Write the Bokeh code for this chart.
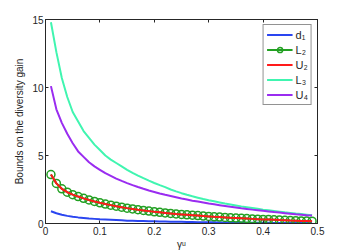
from bokeh.plotting import figure
from bokeh.models import Range1d, LinearAxis, FixedTicker, Legend, LegendItem
from bokeh.embed import file_html
from bokeh.resources import INLINE

gamma = [0.01, 0.02, 0.03, 0.04, 0.05, 0.06, 0.07, 0.08, 0.09, 0.10,
         0.11, 0.12, 0.13, 0.14, 0.15, 0.16, 0.17, 0.18, 0.19, 0.20,
         0.21, 0.22, 0.23, 0.24, 0.25, 0.26, 0.27, 0.28, 0.29, 0.30,
         0.31, 0.32, 0.33, 0.34, 0.35, 0.36, 0.37, 0.38, 0.39, 0.40,
         0.41, 0.42, 0.43, 0.44, 0.45, 0.46, 0.47, 0.48, 0.49]

d1 = [0.90, 0.75, 0.64, 0.56, 0.50, 0.45, 0.41, 0.37, 0.34, 0.31,
      0.29, 0.27, 0.25, 0.23, 0.21, 0.20, 0.19, 0.18, 0.17, 0.16,
      0.15, 0.14, 0.13, 0.125, 0.12, 0.11, 0.105, 0.10, 0.095, 0.09,
      0.085, 0.08, 0.075, 0.07, 0.068, 0.065, 0.06, 0.057, 0.054, 0.05,
      0.047, 0.044, 0.041, 0.038, 0.035, 0.033, 0.031, 0.030, 0.028]

L2 = [3.60, 2.95, 2.55, 2.30, 2.12, 1.98, 1.85, 1.73, 1.62, 1.52,
      1.43, 1.35, 1.27, 1.20, 1.13, 1.07, 1.01, 0.96, 0.91, 0.86,
      0.82, 0.78, 0.74, 0.70, 0.67, 0.64, 0.61, 0.58, 0.55, 0.52,
      0.49, 0.47, 0.45, 0.42, 0.40, 0.38, 0.36, 0.34, 0.32, 0.30,
      0.29, 0.27, 0.25, 0.24, 0.22, 0.21, 0.19, 0.18, 0.17]

U2 = [3.60, 2.95, 2.55, 2.30, 2.12, 1.98, 1.85, 1.73, 1.62, 1.52,
      1.43, 1.35, 1.27, 1.20, 1.13, 1.07, 1.01, 0.96, 0.91, 0.86,
      0.82, 0.78, 0.74, 0.70, 0.67, 0.64, 0.61, 0.58, 0.55, 0.52,
      0.49, 0.47, 0.45, 0.42, 0.40, 0.38, 0.36, 0.34, 0.32, 0.30,
      0.29, 0.27, 0.25, 0.24, 0.22, 0.21, 0.19, 0.18, 0.17]

L3 = [14.8, 12.6, 10.7, 9.3, 8.2, 7.5, 6.8, 6.3, 5.8, 5.4,
      5.0, 4.7, 4.45, 4.2, 3.95, 3.72, 3.52, 3.33, 3.15, 2.98,
      2.82, 2.67, 2.50, 2.36, 2.23, 2.11, 2.0, 1.90, 1.80, 1.71,
      1.63, 1.55, 1.47, 1.40, 1.33, 1.26, 1.20, 1.14, 1.08, 1.02,
      0.97, 0.92, 0.87, 0.82, 0.78, 0.73, 0.69, 0.65, 0.61]

U4 = [10.1, 8.4, 7.4, 6.6, 5.9, 5.3, 4.9, 4.5, 4.2, 3.95,
      3.7, 3.5, 3.3, 3.13, 2.97, 2.82, 2.68, 2.55, 2.43, 2.32,
      2.21, 2.11, 2.02, 1.93, 1.84, 1.76, 1.68, 1.61, 1.54, 1.47,
      1.41, 1.35, 1.29, 1.23, 1.18, 1.12, 1.07, 1.02, 0.98, 0.93,
      0.89, 0.84, 0.80, 0.76, 0.72, 0.68, 0.65, 0.61, 0.58]

x_ticks = [0, 0.1, 0.2, 0.3, 0.4, 0.5]
x_tick_labels = ["0", "0.1", "0.2", "0.3", "0.4", "0.5"]
y_ticks = [0, 5, 10, 15]
y_tick_labels = ["0", "5", "10", "15"]

FONT = "Liberation Sans"
AX = "#262626"

p = figure(width=349, height=252, output_backend="svg", toolbar_location=None,
           x_range=Range1d(0, 0.5), y_range=Range1d(0, 15),
           min_border_left=45, min_border_top=19, min_border_right=32, min_border_bottom=29)
p.grid.visible = False
p.outline_line_color = AX
p.outline_line_width = 1
p.background_fill_color = "white"
p.border_fill_color = "white"

def style_axis(ax):
    ax.axis_line_color = AX
    ax.major_tick_line_color = AX
    ax.major_tick_in = 3
    ax.major_tick_out = 0
    ax.minor_tick_line_color = None
    ax.major_label_text_font = FONT
    ax.major_label_text_font_size = "10px"
    ax.major_label_text_color = AX
    ax.axis_label_text_font = FONT
    ax.axis_label_text_font_size = "10px"
    ax.axis_label_text_font_style = "normal"
    ax.axis_label_text_color = AX

p.xaxis.ticker = FixedTicker(ticks=x_ticks)
p.xaxis.major_label_overrides = {t: l for t, l in zip(x_ticks, x_tick_labels)}
p.yaxis.ticker = FixedTicker(ticks=y_ticks)
p.yaxis.major_label_overrides = {t: l for t, l in zip(y_ticks, y_tick_labels)}
style_axis(p.xaxis[0])
style_axis(p.yaxis[0])
p.xaxis.axis_label = "γᵘ"
p.xaxis.major_label_standoff = 3
p.xaxis.axis_label_standoff = 1
p.yaxis.axis_label = "Bounds on the diversity gain"
p.yaxis.major_label_standoff = 2
p.yaxis.axis_label_standoff = 4

top = LinearAxis(ticker=FixedTicker(ticks=x_ticks), major_label_text_font_size="0px",
                 major_label_standoff=0)
style_axis(top)
top.major_label_text_font_size = "0px"
top.major_label_text_color = None
p.add_layout(top, "above")
right = LinearAxis(ticker=FixedTicker(ticks=y_ticks))
style_axis(right)
right.major_label_text_font_size = "0px"
right.major_label_text_color = None
p.add_layout(right, "right")

r_d1 = p.line(gamma, d1, line_color="#2a45f0", line_width=2)
r_L2 = p.line(gamma, L2, line_color="#22a022", line_width=2)
r_L2c = p.scatter(gamma, L2, marker="circle", size=8, line_color="#22a022",
                  line_width=1.5, fill_color=None)
r_U2 = p.line(gamma, U2, line_color="#ff1a1a", line_width=2)
r_L3 = p.line(gamma, L3, line_color="#40f5b0", line_width=2)
r_U4 = p.line(gamma, U4, line_color="#9a2cf0", line_width=2)

legend = Legend(items=[
    LegendItem(label="d₁", renderers=[r_d1]),
    LegendItem(label="L₂", renderers=[r_L2, r_L2c]),
    LegendItem(label="U₂", renderers=[r_U2]),
    LegendItem(label="L₃", renderers=[r_L3]),
    LegendItem(label="U₄", renderers=[r_U4]),
], location="top_right")
legend.label_text_font = FONT
legend.label_text_font_size = "11px"
legend.label_text_color = AX
legend.border_line_color = AX
legend.border_line_width = 1
legend.glyph_width = 26
legend.glyph_height = 13
legend.spacing = 2
legend.padding = 3
legend.margin = 5
legend.label_standoff = 3
legend.label_height = 13
legend.label_width = 10
p.add_layout(legend)

open("out.html", "w").write(file_html(p, INLINE))
